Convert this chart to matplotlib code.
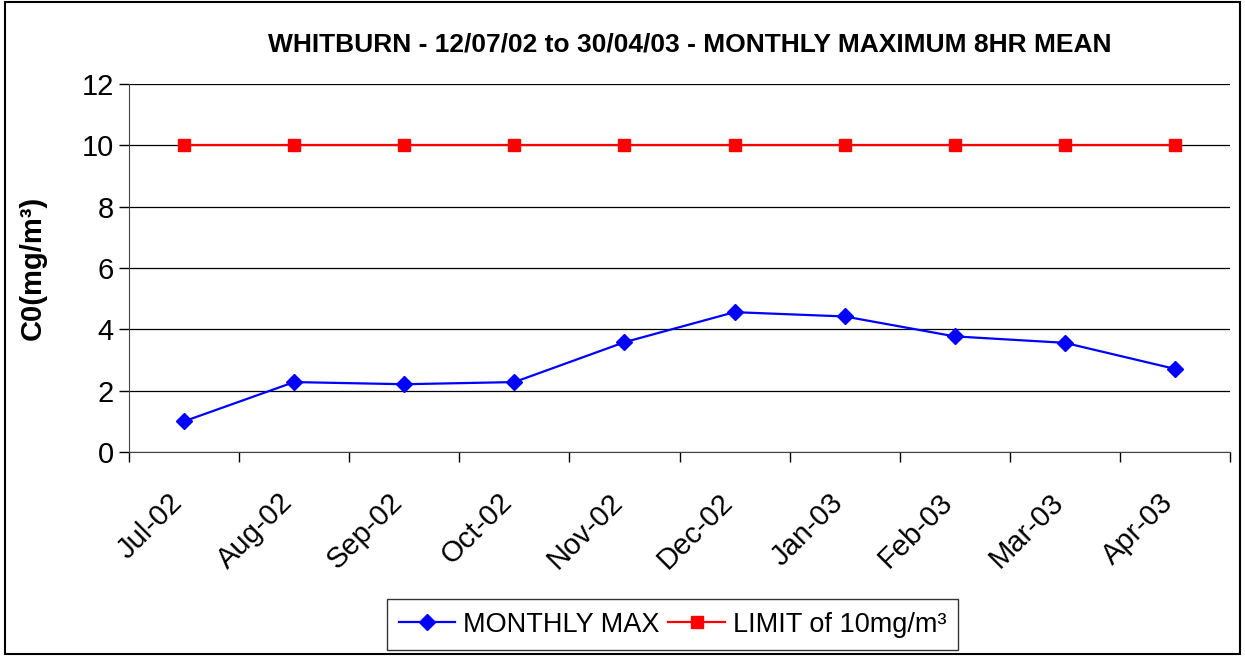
import matplotlib.pyplot as plt
import matplotlib.transforms as mtransforms
import numpy as np
from matplotlib.patches import Rectangle

# monthly maximum 8hr mean CO, Whitburn
months = ["Jul-02", "Aug-02", "Sep-02", "Oct-02", "Nov-02",
          "Dec-02", "Jan-03", "Feb-03", "Mar-03", "Apr-03"]
monthly_max = [1.0, 2.28, 2.21, 2.28, 3.58, 4.56, 4.42, 3.77, 3.56, 2.71]
limit = [10, 10, 10, 10, 10, 10, 10, 10, 10, 10]

plt.rcParams['font.family'] = ['Liberation Sans', 'DejaVu Sans']

fig = plt.figure(figsize=(12.45, 6.56), dpi=100)
ax = fig.add_axes([129/1245, 1-452/656, (1230-129)/1245, (452-84)/656])

x = np.arange(len(months))
ax.plot(x, monthly_max, color='#0000ff', lw=1.6, marker='D', ms=8.5,
        label='MONTHLY MAX', zorder=3)
ax.plot(x, limit, color='#ff0000', lw=1.6, marker='s', ms=9,
        label='LIMIT of 10mg/m³', zorder=3)

ax.set_xlim(-0.5, len(months)-0.5)
ax.set_ylim(0, 12)
ax.set_yticks(range(0, 13, 2))
ax.tick_params(axis='y', labelsize=21, length=7, width=1, direction='out', pad=4)
ax.set_xticks(x)
ax.set_xticklabels(months, rotation=45, ha='right', rotation_mode='anchor', fontsize=21)
ax.tick_params(axis='x', which='major', length=0, pad=26)
ax.set_xticks(np.arange(-0.5, len(months), 1), minor=True)
ax.tick_params(axis='x', which='minor', length=7, width=1, direction='out')

# nudge month labels a little left, like the excel layout
shift = mtransforms.ScaledTranslation(-16/100, 0, fig.dpi_scale_trans)
for lbl in ax.get_xticklabels():
    lbl.set_transform(lbl.get_transform() + shift)

ax.grid(axis='y', color='black', lw=0.9)
ax.set_axisbelow(True)
for s in ['top', 'right']:
    ax.spines[s].set_visible(False)
for s in ['left', 'bottom']:
    ax.spines[s].set_color('#444444')

ax.set_ylabel('C0(mg/m³)', fontsize=21, fontweight='bold', labelpad=25)
fig.text(0.554, 1-45/656, 'WHITBURN - 12/07/02 to 30/04/03 - MONTHLY MAXIMUM 8HR MEAN',
         ha='center', va='center', fontsize=19, fontweight='bold')

leg = fig.legend(loc='center', bbox_to_anchor=(672.5/1245, 1-624.5/656), ncol=2,
                 fontsize=19.5, frameon=True, fancybox=False, edgecolor='black',
                 handlelength=2.07, columnspacing=0.33, handletextpad=0.3,
                 borderpad=0.45)
leg.get_frame().set_linewidth(1)

fig.patches.append(Rectangle((0.004, 0.003), 0.992, 0.994, transform=fig.transFigure,
                             fill=False, edgecolor='black', lw=1.5))

fig.savefig('out.png', dpi=100)
